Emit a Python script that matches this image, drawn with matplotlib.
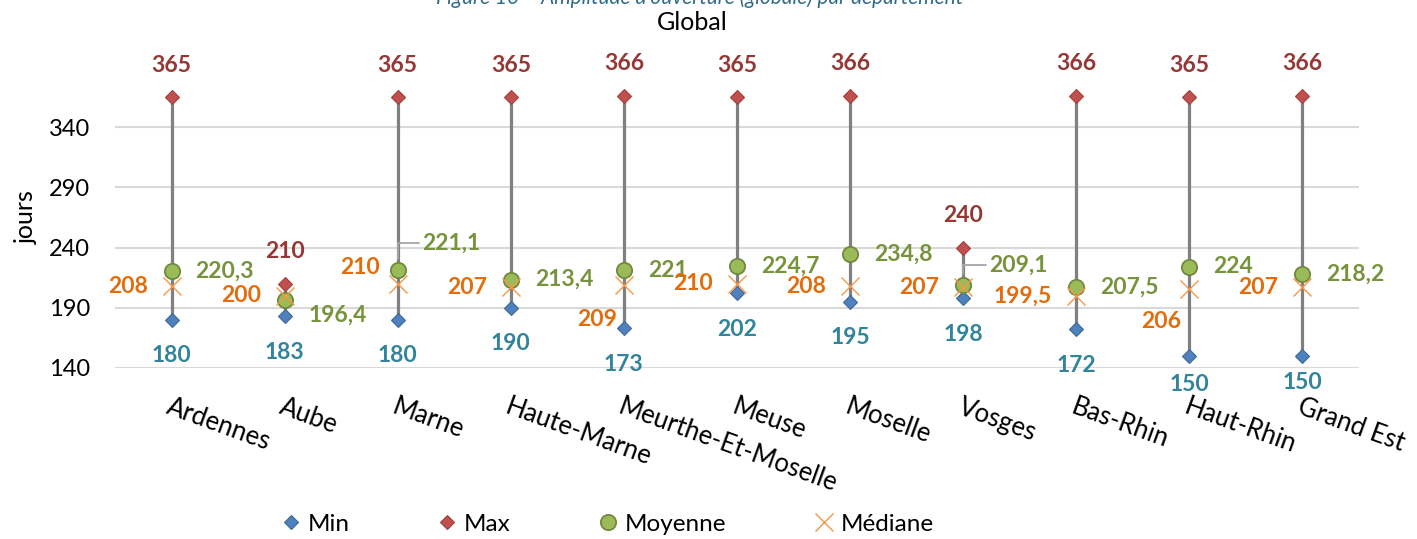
import matplotlib.pyplot as plt
import numpy as np

plt.rcParams['font.family'] = ['Lato', 'DejaVu Sans']

departements = ['Ardennes', 'Aube', 'Marne', 'Haute-Marne', 'Meurthe-Et-Moselle',
                'Meuse', 'Moselle', 'Vosges', 'Bas-Rhin', 'Haut-Rhin', 'Grand Est']
val_min = [180, 183, 180, 190, 173, 202, 195, 198, 172, 150, 150]
val_max = [365, 210, 365, 365, 366, 365, 366, 240, 366, 365, 366]
val_moy = [220.3, 196.4, 221.1, 213.4, 221, 224.7, 234.8, 209.1, 207.5, 224, 218.2]
val_med = [208, 200, 210, 207, 209, 210, 208, 207, 199.5, 206, 207]

# label offsets in pixels (dx, dy, ha)
default_off = {
    'min': (0, -36, 'center'),
    'max': (0, 32, 'center'),
    'moy': (24, 0, 'left'),
    'med': (-24, 0, 'right'),
}
special_off = {
    ('moy', 1): (24, -15, 'left'),
    ('moy', 2): (24, 27, 'left'),
    ('moy', 7): (26, 20, 'left'),
    ('med', 2): (-18, 16, 'right'),
    ('med', 4): (-7, -35, 'right'),
    ('med', 9): (-8, -33, 'right'),
    ('min', 9): (0, -29, 'center'),
    ('min', 10): (0, -27, 'center'),
}
leaders = {('moy', 2), ('moy', 7)}


def fr(v):
    return f'{v:g}'.replace('.', ',')


fig = plt.figure(figsize=(14.17, 5.39), dpi=100)
ax = fig.add_axes([115 / 1417, 1 - 368 / 539, (1359 - 115) / 1417, (368 - 67) / 539])

x = np.arange(len(departements))
ax.vlines(x, val_min, val_max, color='#808080', lw=2.3, zorder=1)

ax.plot(x, val_min, ls='none', marker='D', ms=7, mfc='#4F81BD', mec='#3D6A9C',
        mew=0.8, label='Min', zorder=3)
ax.plot(x, val_max, ls='none', marker='D', ms=7, mfc='#C0504D', mec='#A0403D',
        mew=0.8, label='Max', zorder=3)
ax.plot(x, val_moy, ls='none', marker='o', ms=11, mfc='#9BBB59', mec='#71893F',
        mew=1.3, label='Moyenne', zorder=4)
ax.plot(x, val_med, ls='none', marker='x', ms=13, mec='#F79646', mew=1.0,
        label='Médiane', zorder=5)

series = [('min', val_min, '#31849B'), ('max', val_max, '#953735'),
          ('moy', val_moy, '#77933C'), ('med', val_med, '#E46C0A')]
for key, vals, col in series:
    for i, v in enumerate(vals):
        dx, dy, ha = special_off.get((key, i), default_off[key])
        kw = {}
        if (key, i) in leaders:
            kw['arrowprops'] = dict(arrowstyle='-', color='#A6A6A6', lw=1.3,
                                    connectionstyle='angle,angleA=0,angleB=90,rad=0',
                                    relpos=(0, 0.5), shrinkA=0, shrinkB=8)
        ax.annotate(fr(v), (i, v), xytext=(dx, dy), textcoords='offset pixels',
                    ha=ha, va='center', fontsize=16.5, fontweight='bold',
                    color=col, annotation_clip=False, zorder=6, **kw)

ax.set_xlim(-0.5, len(departements) - 0.5)
ax.set_ylim(140, 390)
ax.set_yticks([140, 190, 240, 290, 340])
ax.grid(axis='y', color='#D9D9D9', lw=1.5)
ax.set_axisbelow(True)
for s in ax.spines.values():
    s.set_visible(False)
ax.tick_params(length=0)
ax.tick_params(axis='y', labelsize=17, pad=18)
ax.set_xticks(x)
ax.set_xticklabels(departements, rotation=-20, ha='left', rotation_mode='anchor',
                   fontsize=18.5)
ax.tick_params(axis='x', pad=19)
ax.set_ylabel('jours', fontsize=18, labelpad=8)

fig.text(700 / 1417, 1 - 4 / 539,
         "Figure 10 – Amplitude d'ouverture (globale) par département",
         ha='center', va='baseline', style='italic', color='#2E6B8C', fontsize=15)
fig.text(692 / 1417, 1 - 22 / 539, 'Global', ha='center', va='center', fontsize=18)

fig.legend(loc='center', bbox_to_anchor=(0.427, 0.027), ncol=4, frameon=False,
           fontsize=17.5, columnspacing=3.4, handletextpad=0.1, handlelength=1.2,
           numpoints=1)

fig.savefig('out.png', dpi=100)
